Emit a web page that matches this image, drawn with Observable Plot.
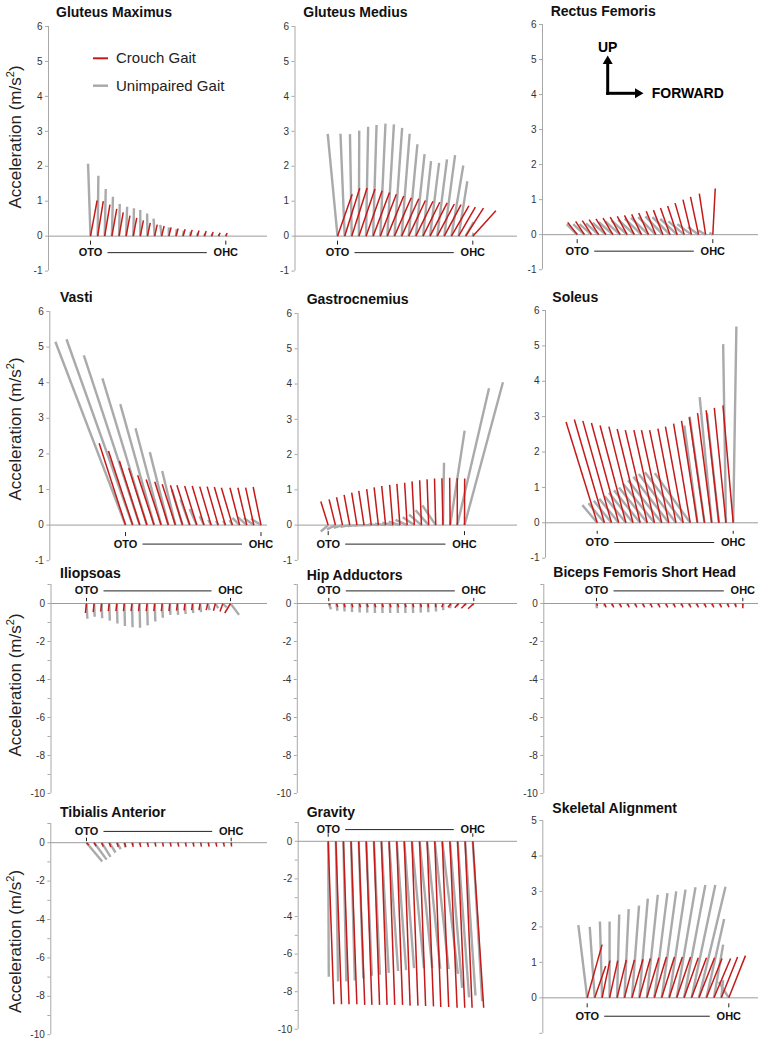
<!DOCTYPE html>
<html><head><meta charset="utf-8">
<script src="https://cdn.jsdelivr.net/npm/d3@7"></script>
<script src="https://cdn.jsdelivr.net/npm/@observablehq/plot@0.6"></script>
<style>
body{margin:0;background:#fff;}
#root{position:relative;width:766px;height:1043px;overflow:hidden;font-family:"Liberation Sans",Arial,sans-serif;}
#root svg{position:absolute;}
</style></head><body><div id="root"></div>
<script>
// ---------- DATA ----------
const panelNames = ["Gluteus Maximus","Gluteus Medius","Rectus Femoris","Vasti","Gastrocnemius","Soleus","Iliopsoas","Hip Adductors","Biceps Femoris Short Head","Tibialis Anterior","Gravity","Skeletal Alignment"];
const seriesNames = ["Crouch Gait","Unimpaired Gait"];
const phaseLabels = ["OTO","OHC"];
const axisTitle = "Acceleration (m/s";
// percent of single-limb stance (OTO -> OHC)
const stancePct = [0,5.3,10.5,15.8,21.1,26.3,31.6,36.8,42.1,47.4,52.6,57.9,63.2,68.4,73.7,78.9,84.2,89.5,94.7,100];

// forward (horizontal) and upward (vertical) COM acceleration components, m/s^2
const gluteusMaximusCrouchFwd = [0.19,0.16,0.15,0.14,0.12,0.11,0.1,0.09,0.08,0.075,0.07,0.065,0.06,0.06,0.055,0.05,0.05,0.045,0.04,0.04];
const gluteusMaximusCrouchUp = [1.02,1.0,0.9,0.78,0.68,0.59,0.52,0.45,0.38,0.33,0.29,0.25,0.22,0.2,0.18,0.16,0.15,0.12,0.1,0.09];
const gluteusMaximusUnimpFwd = [-0.07,0.02,0.03,0.03,0.02,0.03,0.02,0.0,-0.01,-0.03,-0.04,0.0,0.02,0.02,0.02,0.02,0.02,0.02,0.02,0.02];
const gluteusMaximusUnimpUp = [2.07,1.73,1.35,1.13,0.92,0.84,0.8,0.75,0.65,0.5,0.32,0.25,0.2,0.16,0.13,0.1,0.08,0.07,0.05,0.04];

const gluteusMediusCrouchFwd = [0.42,0.43,0.44,0.46,0.46,0.47,0.46,0.47,0.48,0.49,0.48,0.49,0.48,0.49,0.49,0.48,0.5,0.48,0.51,0.66];
const gluteusMediusCrouchUp = [1.2,1.37,1.38,1.35,1.3,1.25,1.2,1.15,1.1,1.07,1.02,1.0,0.97,0.95,0.92,0.9,0.87,0.83,0.8,0.73];
const gluteusMediusUnimpFwd = [-0.28,-0.12,-0.05,0.01,0.06,0.1,0.15,0.19,0.22,0.23,0.25,0.25,0.23,0.26,0.28,0.31,0.34,0.25,0.23,0.02];
const gluteusMediusUnimpUp = [2.93,2.93,2.92,3.02,3.13,3.18,3.22,3.2,3.1,2.93,2.63,2.35,2.15,2.1,2.2,2.32,2.02,1.57,0.4,0.1];

const rectusFemorisCrouchFwd = [-0.27,-0.25,-0.26,-0.27,-0.28,-0.28,-0.28,-0.28,-0.28,-0.28,-0.28,-0.27,-0.27,-0.27,-0.27,-0.26,-0.24,-0.23,-0.18,0.07];
const rectusFemorisCrouchUp = [0.35,0.38,0.4,0.43,0.45,0.47,0.5,0.52,0.55,0.58,0.62,0.67,0.7,0.76,0.82,0.9,1.0,1.08,1.17,1.32];
const rectusFemorisUnimpFwd = [-0.3,-0.32,-0.34,-0.36,-0.38,-0.4,-0.42,-0.44,-0.46,-0.48,-0.5,-0.5,-0.5,-0.5,-0.48,-0.45,-0.4,-0.3,-0.2,-0.1];
const rectusFemorisUnimpUp = [0.3,0.3,0.3,0.32,0.34,0.36,0.38,0.4,0.43,0.46,0.48,0.5,0.52,0.5,0.45,0.38,0.3,0.22,0.12,0.05];

const vastiCrouchFwd = [-0.74,-0.68,-0.57,-0.51,-0.46,-0.42,-0.38,-0.37,-0.34,-0.36,-0.34,-0.33,-0.32,-0.31,-0.31,-0.31,-0.27,-0.25,-0.23,-0.22];
const vastiCrouchUp = [2.3,2.08,1.8,1.6,1.4,1.28,1.22,1.15,1.12,1.12,1.1,1.1,1.08,1.08,1.07,1.05,1.05,1.05,1.05,1.07];
const vastiUnimpFwd = [-1.97,-1.86,-1.57,-1.25,-0.95,-0.72,-0.52,-0.37,-0.3,-0.26,-0.2,-0.12,-0.08,-0.06,-0.06,-0.08,-0.2,-0.25,-0.28,-0.28];
const vastiUnimpUp = [5.15,5.22,4.77,4.12,3.4,2.72,2.05,1.52,1.0,0.72,0.45,0.25,0.15,0.12,0.12,0.14,0.2,0.22,0.2,0.18];

const gastrocnemiusCrouchFwd = [-0.21,-0.18,-0.17,-0.16,-0.15,-0.15,-0.13,-0.12,-0.11,-0.09,-0.085,-0.07,-0.065,-0.05,-0.045,-0.035,-0.03,-0.015,0.0,0.005];
const gastrocnemiusCrouchUp = [0.67,0.73,0.79,0.86,0.92,0.97,1.02,1.07,1.11,1.14,1.17,1.2,1.24,1.27,1.3,1.32,1.33,1.34,1.33,1.32];
const gastrocnemiusUnimpFwd = [-0.21,-0.24,-0.25,-0.26,-0.27,-0.27,-0.27,-0.28,-0.3,-0.3,-0.32,-0.33,-0.33,-0.35,-0.37,-0.38,0.03,0.41,0.9,1.09];
const gastrocnemiusUnimpUp = [-0.18,-0.12,-0.08,-0.05,-0.03,-0.01,0.0,0.02,0.04,0.07,0.1,0.15,0.22,0.3,0.42,0.56,1.77,2.68,3.88,4.05];

const soleusCrouchFwd = [-0.88,-0.85,-0.81,-0.77,-0.73,-0.68,-0.65,-0.62,-0.58,-0.57,-0.54,-0.51,-0.5,-0.47,-0.45,-0.43,-0.4,-0.36,-0.33,-0.29];
const soleusCrouchUp = [2.85,2.92,2.88,2.82,2.75,2.72,2.65,2.62,2.62,2.62,2.62,2.66,2.72,2.8,2.88,2.98,3.1,3.18,3.25,3.32];
const soleusUnimpFwd = [-0.42,-0.45,-0.5,-0.55,-0.6,-0.68,-0.74,-0.8,-0.88,-0.95,-1.0,-1.05,-1.08,-1.0,-0.37,-0.42,-0.34,-0.34,-0.08,0.09];
const soleusUnimpUp = [0.5,0.55,0.62,0.68,0.75,0.85,0.92,1.0,1.1,1.2,1.3,1.38,1.43,1.4,2.75,3.0,3.55,3.1,5.05,5.55];

const iliopsoasCrouchFwd = [-0.06,-0.05,-0.05,-0.05,-0.05,-0.05,-0.05,-0.05,-0.05,-0.05,-0.05,-0.05,-0.05,-0.05,-0.05,-0.06,-0.08,-0.1,-0.15,-0.3];
const iliopsoasCrouchUp = [-0.5,-0.45,-0.42,-0.4,-0.4,-0.4,-0.4,-0.4,-0.4,-0.4,-0.4,-0.4,-0.38,-0.36,-0.35,-0.35,-0.35,-0.38,-0.42,-0.5];
const iliopsoasUnimpFwd = [0.05,0.03,0.03,0.03,0.03,0.03,0.03,0.03,0.03,0.03,0.03,0.03,0.03,0.03,0.03,0.05,0.1,0.15,0.2,0.45];
const iliopsoasUnimpUp = [-0.8,-0.7,-0.78,-0.9,-1.05,-1.18,-1.25,-1.28,-1.15,-0.95,-0.75,-0.6,-0.6,-0.55,-0.5,-0.45,-0.35,-0.25,-0.2,-0.6];

const hipAdductorsCrouchFwd = [0.08,0.07,0.06,0.06,0.06,0.06,0.06,0.06,0.06,0.06,0.05,0.05,0.05,0.03,0.0,-0.08,-0.15,-0.2,-0.25,-0.3];
const hipAdductorsCrouchUp = [-0.08,-0.18,-0.2,-0.2,-0.2,-0.2,-0.2,-0.2,-0.2,-0.2,-0.2,-0.2,-0.2,-0.2,-0.2,-0.2,-0.2,-0.22,-0.25,-0.28];
const hipAdductorsUnimpFwd = [0.12,0.05,0.03,0.02,0.02,0.02,0.02,0.02,0.02,0.02,0.02,0.02,0.02,0.02,0.02,0.0,-0.05,-0.1,-0.1,-0.1];
const hipAdductorsUnimpUp = [-0.3,-0.38,-0.42,-0.45,-0.47,-0.48,-0.5,-0.5,-0.5,-0.5,-0.5,-0.5,-0.48,-0.46,-0.42,-0.35,-0.25,-0.15,-0.1,-0.08];

const bicepsFemorisCrouchFwd = [0.06,0.1,0.1,0.1,0.1,0.1,0.1,0.1,0.1,0.1,0.1,0.1,0.1,0.1,0.1,0.1,0.1,0.08,0.06,0.0];
const bicepsFemorisCrouchUp = [-0.12,-0.2,-0.2,-0.2,-0.2,-0.2,-0.2,-0.2,-0.2,-0.2,-0.2,-0.2,-0.2,-0.2,-0.2,-0.2,-0.2,-0.2,-0.2,-0.25];
const bicepsFemorisUnimpFwd = [0.02,0.03,0.03,0.03,0.03,0.03,0.03,0.03,0.03,0.03,0.03,0.03,0.03,0.03,0.03,0.03,0.03,0.03,0.03,0.02];
const bicepsFemorisUnimpUp = [-0.25,-0.15,-0.12,-0.1,-0.1,-0.1,-0.1,-0.1,-0.1,-0.1,-0.1,-0.1,-0.1,-0.1,-0.1,-0.1,-0.1,-0.1,-0.1,-0.1];

const tibialisAnteriorCrouchFwd = [0.12,0.1,0.08,0.07,0.06,0.06,0.05,0.05,0.05,0.04,0.04,0.04,0.04,0.04,0.04,0.04,0.04,0.04,0.04,0.02];
const tibialisAnteriorCrouchUp = [-0.12,-0.18,-0.2,-0.22,-0.22,-0.22,-0.22,-0.22,-0.22,-0.2,-0.2,-0.2,-0.2,-0.2,-0.2,-0.2,-0.2,-0.2,-0.2,-0.2];
const tibialisAnteriorUnimpFwd = [0.82,0.65,0.46,0.32,0.19,0.05,0.04,0.03,0.03,0.03,0.03,0.03,0.03,0.03,0.03,0.03,0.03,0.03,0.03,0.03];
const tibialisAnteriorUnimpUp = [-0.98,-0.88,-0.74,-0.51,-0.33,-0.25,-0.12,-0.08,-0.06,-0.05,-0.05,-0.05,-0.05,-0.05,-0.05,-0.05,-0.05,-0.05,-0.05,-0.05];

const gravityCrouchFwd = [0.3,0.3,0.3,0.31,0.32,0.3,0.3,0.3,0.3,0.31,0.31,0.32,0.32,0.34,0.32,0.34,0.38,0.38,0.37,0.58];
const gravityCrouchUp = [-8.67,-8.67,-8.67,-8.67,-8.7,-8.7,-8.7,-8.7,-8.7,-8.7,-8.74,-8.74,-8.76,-8.78,-8.81,-8.81,-8.85,-8.85,-8.85,-8.85];
const gravityUnimpFwd = [0.03,0.12,0.16,0.2,0.25,0.3,0.32,0.39,0.48,0.5,0.52,0.64,0.67,0.7,0.74,0.83,0.65,0.61,0.55,0.5];
const gravityUnimpUp = [-7.2,-7.45,-7.45,-7.4,-7.3,-7.15,-7.1,-7.0,-6.9,-6.85,-6.75,-6.75,-6.75,-6.78,-6.8,-7.05,-7.8,-8.3,-8.2,-8.5];

const skeletalCrouchFwd = [0.42,0.31,0.22,0.23,0.26,0.28,0.31,0.31,0.34,0.34,0.36,0.37,0.39,0.4,0.42,0.44,0.44,0.47,0.46,0.47];
const skeletalCrouchUp = [1.5,0.9,1.05,1.05,1.07,1.07,1.09,1.11,1.13,1.15,1.15,1.15,1.15,1.13,1.13,1.13,1.11,1.11,1.15,1.19];
const skeletalUnimpFwd = [-0.25,-0.14,-0.06,0.0,0.06,0.12,0.2,0.24,0.31,0.37,0.41,0.46,0.53,0.6,0.67,0.75,0.5,0.26,0.05,-0.28];
const skeletalUnimpUp = [2.05,2.0,2.15,2.15,2.35,2.5,2.6,2.8,2.9,2.95,3.0,3.05,3.12,3.18,3.18,3.13,2.22,1.5,0.5,0.45];

const ticksUp6 = [-1,0,1,2,3,4,5,6];
const labelsUp6 = [-1,0,1,2,3,4,5,6];
const ticksDown10 = [1,0,-1,-2,-3,-4,-5,-6,-7,-8,-9,-10];
const labelsDown10 = [0,-2,-4,-6,-8,-10];
const ticksUp5 = [-1,0,1,2,3,4,5];
const labelsUp5 = [0,1,2,3,4,5];

// ---------- BUILD ----------
const series = [
  [gluteusMaximusCrouchFwd,gluteusMaximusCrouchUp,gluteusMaximusUnimpFwd,gluteusMaximusUnimpUp],
  [gluteusMediusCrouchFwd,gluteusMediusCrouchUp,gluteusMediusUnimpFwd,gluteusMediusUnimpUp],
  [rectusFemorisCrouchFwd,rectusFemorisCrouchUp,rectusFemorisUnimpFwd,rectusFemorisUnimpUp],
  [vastiCrouchFwd,vastiCrouchUp,vastiUnimpFwd,vastiUnimpUp],
  [gastrocnemiusCrouchFwd,gastrocnemiusCrouchUp,gastrocnemiusUnimpFwd,gastrocnemiusUnimpUp],
  [soleusCrouchFwd,soleusCrouchUp,soleusUnimpFwd,soleusUnimpUp],
  [iliopsoasCrouchFwd,iliopsoasCrouchUp,iliopsoasUnimpFwd,iliopsoasUnimpUp],
  [hipAdductorsCrouchFwd,hipAdductorsCrouchUp,hipAdductorsUnimpFwd,hipAdductorsUnimpUp],
  [bicepsFemorisCrouchFwd,bicepsFemorisCrouchUp,bicepsFemorisUnimpFwd,bicepsFemorisUnimpUp],
  [tibialisAnteriorCrouchFwd,tibialisAnteriorCrouchUp,tibialisAnteriorUnimpFwd,tibialisAnteriorUnimpUp],
  [gravityCrouchFwd,gravityCrouchUp,gravityUnimpFwd,gravityUnimpUp],
  [skeletalCrouchFwd,skeletalCrouchUp,skeletalUnimpFwd,skeletalUnimpUp]
];

const RED = "#c41a1a", GRAY = "#aaaaaa";
const FONT = "'Liberation Sans', Arial, Helvetica, sans-serif";

// page-pixel layout of each panel
const layout = [
  {colLeft:0,  axisX:48,    rightX:267, yMax:6, yMin:-1,  topPx:26,    botPx:270.6, oto:90,    ohc:225.3, tx:56,    ty:17,    ldy:16.5, tk:[4.5,8.5], ticks:ticksUp6, labels:labelsUp6},
  {colLeft:255,axisX:294.5, rightX:517, yMax:6, yMin:-1,  topPx:26,    botPx:270.6, oto:337,   ohc:472.3, tx:303.3, ty:17,    ldy:16.5, tk:[4.5,8.5], ticks:ticksUp6, labels:labelsUp6},
  {colLeft:510,axisX:542,   rightX:758, yMax:6, yMin:-1,  topPx:24.3,  botPx:269.5, oto:576.7, ohc:712.3, tx:550.7, ty:15.5,  ldy:16.5, tk:[4.5,8.5], ticks:ticksUp6, labels:labelsUp6},
  {colLeft:0,  axisX:49.3,  rightX:267, yMax:6, yMin:-1,  topPx:310.7, botPx:559.9, oto:125,   ohc:260.5, tx:60,    ty:302.3, ldy:19,   tk:[7,11],    ticks:ticksUp6, labels:labelsUp6},
  {colLeft:255,axisX:297.5, rightX:517, yMax:6, yMin:-1,  topPx:312.7, botPx:559.6, oto:327.7, ohc:464,   tx:306.7, ty:304.3, ldy:19,   tk:[6,10],    ticks:ticksUp6, labels:labelsUp6},
  {colLeft:510,axisX:545,   rightX:758, yMax:6, yMin:-1,  topPx:310,   botPx:557.7, oto:596.7, ohc:732.7, tx:552.3, ty:301.7, ldy:19.7, tk:[8,11],    ticks:ticksUp6, labels:labelsUp6},
  {colLeft:0,  axisX:50.5,  rightX:267, yMax:1, yMin:-10, topPx:584.3, botPx:793.3, oto:86,    ohc:230,   tx:60,    ty:578.3, ldy:-12.6,tk:[-5.6,-2.3],ticks:ticksDown10, labels:labelsDown10},
  {colLeft:255,axisX:296.8, rightX:517, yMax:1, yMin:-10, topPx:584.3, botPx:793.3, oto:328.3, ohc:473.3, tx:306.7, ty:580,   ldy:-12.6,tk:[-5.6,-2.3],ticks:ticksDown10, labels:labelsDown10},
  {colLeft:510,axisX:543.3, rightX:758, yMax:1, yMin:-10, topPx:584.3, botPx:793.3, oto:596,   ohc:742.3, tx:553.3, ty:576.7, ldy:-12.6,tk:[-5.6,-2.3],ticks:ticksDown10, labels:labelsDown10},
  {colLeft:0,  axisX:50.3,  rightX:267, yMax:1, yMin:-10, topPx:822.8, botPx:1034,  oto:86,    ohc:230.7, tx:60,    ty:816.7, ldy:-11.3,tk:[-5,-1.5], ticks:ticksDown10, labels:labelsDown10},
  {colLeft:255,axisX:297.7, rightX:517, yMax:1, yMin:-10, topPx:822.2, botPx:1029,  oto:327.7, ohc:472.3, tx:306.7, ty:817.3, ldy:-11.7,tk:[-8,-4.5], ticks:ticksDown10, labels:labelsDown10},
  {colLeft:510,axisX:542.3, rightX:758, yMax:5, yMin:-1,  topPx:820,   botPx:1032.8,oto:586.7, ohc:728.3, tx:552.3, ty:813.3, ldy:18.4, tk:[5.5,9.5], ticks:ticksUp5, labels:labelsUp5}
];

const root = document.getElementById("root");
const M = 10;

layout.forEach((p, k) => {
  const [cFwd, cUp, uFwd, uUp] = series[k];
  const ppu = (p.botPx - p.topPx) / (p.yMax - p.yMin);
  const width = p.rightX - p.colLeft;
  const height = p.botPx - p.topPx + 2 * M;
  const xMax = (p.rightX - p.axisX) / ppu;
  const oto = (p.oto - p.axisX) / ppu;
  const ohc = (p.ohc - p.axisX) / ppu;
  const start = t => oto + (ohc - oto) * t / 100;
  const idx = stancePct.map((_, i) => i);
  const svg = Plot.plot({
    width, height,
    marginLeft: p.axisX - p.colLeft, marginRight: 0, marginTop: M, marginBottom: M,
    x: {domain: [0, xMax], axis: null},
    y: {domain: [p.yMin, p.yMax], axis: null},
    style: {fontFamily: FONT, background: "transparent", overflow: "visible"},
    marks: [
      Plot.ruleX([0], {stroke: "#a8a8a8", strokeWidth: 1}),
      Plot.ruleY([0], {stroke: "#9c9c9c", strokeWidth: 1}),
      Plot.axisY({ticks: p.ticks, tickFormat: v => p.labels.includes(v) ? String(v) : "",
        tickSize: 3, tickPadding: 3, fontSize: 10, stroke: "#a8a8a8", fill: "#333", label: null}),
      Plot.link(idx, {x1: i => start(stancePct[i]), y1: () => 0,
        x2: i => start(stancePct[i]) + uFwd[i], y2: i => uUp[i], stroke: GRAY, strokeWidth: 2.4}),
      Plot.link(idx, {x1: i => start(stancePct[i]), y1: () => 0,
        x2: i => start(stancePct[i]) + cFwd[i], y2: i => cUp[i], stroke: RED, strokeWidth: 1.5}),
      Plot.link([oto, ohc], {x1: d => d, x2: d => d, y1: () => -p.tk[0] / ppu, y2: () => -p.tk[1] / ppu, stroke: "#222", strokeWidth: 1}),
      Plot.text([[oto, phaseLabels[0]], [ohc, phaseLabels[1]]], {x: d => d[0], y: () => 0, text: d => d[1],
        dy: p.ldy, fontWeight: "bold", fontSize: 11, fill: "#111"}),
      Plot.link([0], {x1: () => oto + 17 / ppu, x2: () => ohc - 19 / ppu, y1: () => 0, y2: () => 0,
        dy: p.ldy, stroke: "#222", strokeWidth: 1})
    ]
  });
  svg.style.left = p.colLeft + "px";
  svg.style.top = (p.topPx - M) + "px";
  root.appendChild(svg);
});

// ---------- overlay: titles, legend, axis titles, direction arrows ----------
const ov = d3.select(root).append("svg").attr("width", 766).attr("height", 1043)
  .style("left", "0px").style("top", "0px").style("font-family", FONT);

layout.forEach((p, k) => {
  ov.append("text").attr("x", p.tx).attr("y", p.ty).attr("font-size", 14).attr("font-weight", "bold")
    .attr("fill", "#111").text(panelNames[k]);
});

[137, 429, 685, 941.5].forEach(cy => {
  const t = ov.append("text").attr("transform", `translate(20.5,${cy}) rotate(-90)`)
    .attr("text-anchor", "middle").attr("font-size", 17).attr("fill", "#222");
  t.append("tspan").text(axisTitle);
  t.append("tspan").attr("dy", -7).attr("font-size", 11).text("2");
  t.append("tspan").attr("dy", 7).text(")");
});

// legend
ov.append("line").attr("x1", 93).attr("x2", 108).attr("y1", 58.3).attr("y2", 58.3).attr("stroke", RED).attr("stroke-width", 2);
ov.append("text").attr("x", 116).attr("y", 63.4).attr("font-size", 15).attr("fill", "#222").text(seriesNames[0]);
ov.append("line").attr("x1", 93).attr("x2", 108).attr("y1", 85.7).attr("y2", 85.7).attr("stroke", GRAY).attr("stroke-width", 2.5);
ov.append("text").attr("x", 116).attr("y", 90.8).attr("font-size", 15).attr("fill", "#222").text(seriesNames[1]);

// direction arrows
ov.append("line").attr("x1", 607.7).attr("x2", 607.7).attr("y1", 94.8).attr("y2", 63).attr("stroke", "#000").attr("stroke-width", 3);
ov.append("polygon").attr("points", "602.7,64 612.7,64 607.7,55.5").attr("fill", "#000");
ov.append("line").attr("x1", 606.2).attr("x2", 636).attr("y1", 93.3).attr("y2", 93.3).attr("stroke", "#000").attr("stroke-width", 3);
ov.append("polygon").attr("points", "635,88.3 635,98.3 643.5,93.3").attr("fill", "#000");
ov.append("text").attr("x", 607.7).attr("y", 51.5).attr("text-anchor", "middle").attr("font-size", 14).attr("font-weight", "bold").text("UP");
ov.append("text").attr("x", 651.7).attr("y", 98.3).attr("font-size", 14).attr("font-weight", "bold").text("FORWARD");
</script></body></html>
